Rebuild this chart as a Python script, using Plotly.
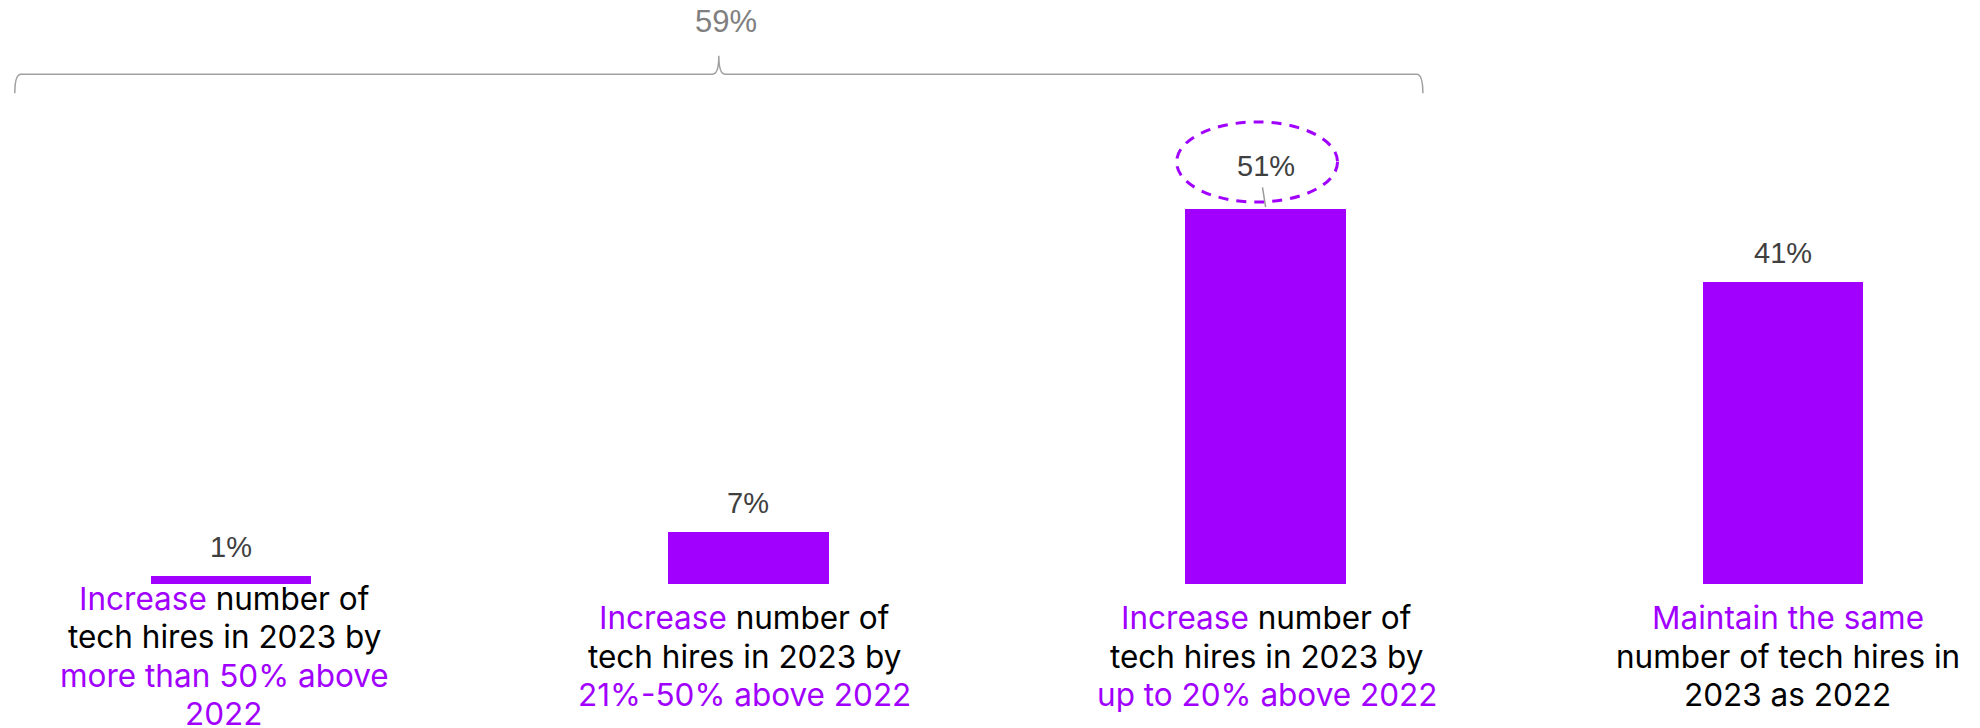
import plotly.graph_objects as go

# Survey outcome: planned change in tech hires for 2023 vs 2022
categories = [0, 1, 2, 3]
values = [1, 7, 51, 41]
value_labels = ["1%", "7%", "51%", "41%"]
label_lines = [
    ["<span style='color:#A100FF'>Increase</span> number of",
     "tech hires in 2023 by",
     "<span style='color:#A100FF'>more than 50% above</span>",
     "<span style='color:#A100FF'>2022</span>"],
    ["<span style='color:#A100FF'>Increase</span> number of",
     "tech hires in 2023 by",
     "<span style='color:#A100FF'>21%-50% above 2022</span>"],
    ["<span style='color:#A100FF'>Increase</span> number of",
     "tech hires in 2023 by",
     "<span style='color:#A100FF'>up to 20% above 2022</span>"],
    ["<span style='color:#A100FF'>Maintain the same</span>",
     "number of tech hires in",
     "2023 as 2022"],
]
bracket_members = [0, 1, 2]

PURPLE = "#A100FF"
VALUE_FONT = dict(family="Liberation Sans, Arial, sans-serif", size=29, color="#404040")
LABEL_FONT = dict(family="Inter, Roboto, sans-serif", size=31.5, color="#000000")
LABEL_XSHIFT = [-7, -4, 1, 5]
LINE_STEP = 38.5        # px between label lines
LABEL_CENTER = -72.5    # px offset of label block centre below the baseline

fig = go.Figure()
fig.add_trace(go.Bar(
    x=categories, y=values, width=0.31,
    marker=dict(color=PURPLE, line=dict(width=0)),
    hoverinfo="skip",
))

# value labels above bars (the highlighted one sits inside a dashed ellipse)
for x, v, t in zip(categories, values, value_labels):
    fig.add_annotation(x=x, y=v, text=t, showarrow=False, yanchor="middle",
                       yshift=43 if v == max(values) else 29, font=VALUE_FONT)

# category labels under bars, one annotation per line for even spacing
for x, lines, dx in zip(categories, label_lines, LABEL_XSHIFT):
    n = len(lines)
    for k, line in enumerate(lines):
        fig.add_annotation(x=x, y=0, text=line, showarrow=False,
                           yanchor="middle", xshift=dx,
                           yshift=LABEL_CENTER - (k - (n - 1) / 2) * LINE_STEP,
                           font=LABEL_FONT)

# dashed ellipse around the top value and its leader line
top = values.index(max(values))
fig.add_shape(type="circle", xref="x", yref="y",
              x0=top - 0.172, x1=top + 0.139, y0=51.9, y1=62.8,
              line=dict(color=PURPLE, width=3, dash="10px,8px"))
fig.add_shape(type="line", xref="x", yref="y",
              x0=top - 0.006, y0=53.9, x1=top + 0.0, y1=values[top] + 0.2,
              line=dict(color="#9a9a9a", width=1.5))

# curly bracket grouping the "increase" answers
xl, xr = bracket_members[0] - 0.418, bracket_members[-1] + 0.304
xc = (xl + xr) / 2
y_line, y_end, y_tip = 69.3, 66.7, 71.8
d = 0.012
path = (f"M {xl},{y_end} Q {xl},{y_line} {xl + d},{y_line} "
        f"L {xc - d},{y_line} Q {xc},{y_line} {xc},{y_tip} "
        f"Q {xc},{y_line} {xc + d},{y_line} "
        f"L {xr - d},{y_line} Q {xr},{y_line} {xr},{y_end}")
fig.add_shape(type="path", xref="x", yref="y", path=path,
              line=dict(color="#a0a0a0", width=1.5))
total = sum(values[i] for i in bracket_members)
fig.add_annotation(x=xc + 0.013, y=76.4, text=f"{total}%", showarrow=False,
                   yanchor="middle",
                   font=dict(family="Liberation Sans, Arial, sans-serif", size=31, color="#808080"))

fig.update_layout(
    width=1980, height=728,
    margin=dict(l=0, r=0, t=0, b=0),
    paper_bgcolor="white", plot_bgcolor="white",
    showlegend=False,
    xaxis=dict(range=[-0.4466, 3.381], visible=False, fixedrange=True),
    yaxis=dict(range=[-19.66, 79.39], visible=False, fixedrange=True),
    bargap=0,
)

fig.write_html("out.html", config={"displayModeBar": False})
